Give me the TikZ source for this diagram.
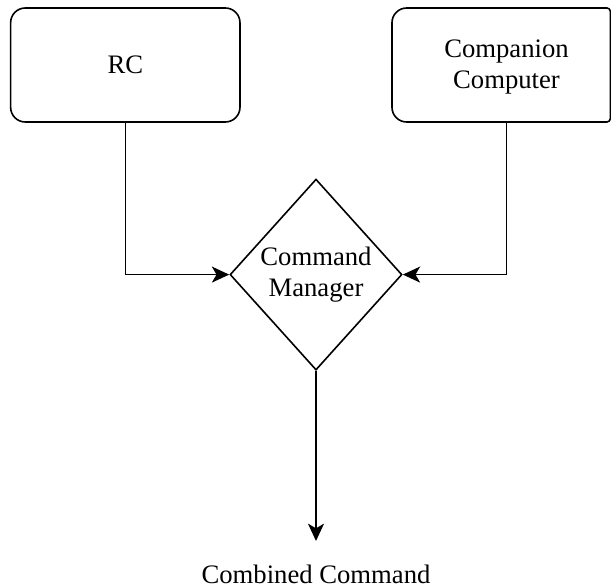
\documentclass[tikz,border=0pt]{standalone}
\usepackage{fontspec}
\setmainfont{Liberation Serif}
\usetikzlibrary{shapes.geometric,arrows.meta}

\begin{document}
\begin{tikzpicture}[
  x=0.75pt, y=-0.75pt,
  font=\fontsize{20}{23}\selectfont,
  line/.style={line width=1.2pt, draw=black},
  flow/.style={line, -{Stealth[length=13pt, width=12pt, inset=3.5pt]}},
  roundbox/.style={line, rectangle, rounded corners=11pt,
    minimum width=172pt, minimum height=85.5pt, align=center, inner sep=0pt},
  textbox/.style={rectangle, minimum width=172pt, minimum height=85.5pt,
    align=center, inner sep=0pt},
  decision/.style={line, diamond, minimum width=129pt, minimum height=143.25pt,
    inner sep=0pt},
]
\useasboundingbox (0,0) rectangle (611,588);

% source blocks
\node[roundbox] (rc) at (125.3,65) {RC};
\node[textbox] (cc) at (506.5,67) {Companion\\Computer};
% outline of the companion block, right side flattened at the page edge
\draw[line] (392,65) [rounded corners=11pt] -- (392,8) -- (500,8)
  [rounded corners=2.5pt] -- (610.3,8) -- (610.3,122)
  [rounded corners=11pt] -- (392,122) -- cycle;
\coordinate (ccfoot) at (506.5,122);

% decision diamond
\node[decision] (cm) at (316,274.6) {};
\node[align=center] (cmtext) at (cm.center) {Command\\Manager};

% output label
\node[anchor=base] (out) at (316,583) {Combined Command};
\coordinate (tip) at (316,541);

% connectors
\draw[flow] (rc.south) |- (cm.west);
\draw[flow] (ccfoot) |- (cm.east);
\draw[flow] (cm.south) -- (tip);
\end{tikzpicture}
\end{document}
